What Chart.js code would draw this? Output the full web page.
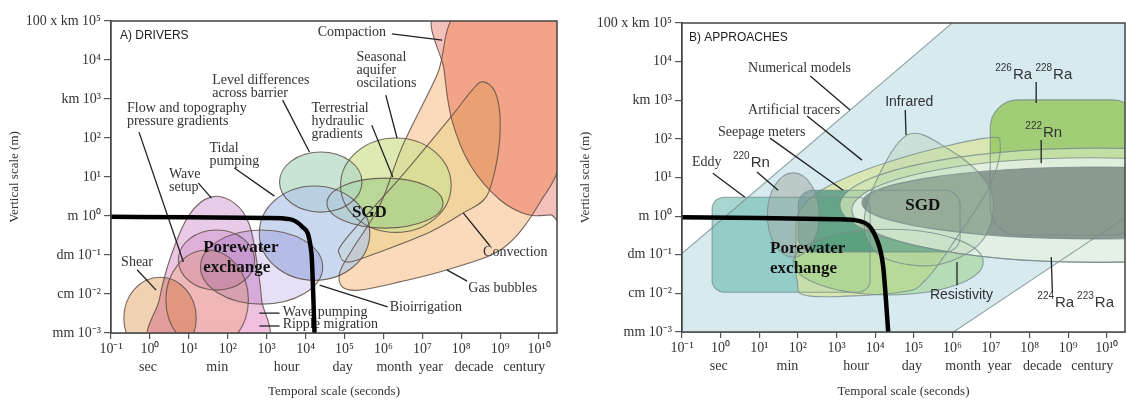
<!DOCTYPE html>
<html>
<head>
<meta charset="utf-8">
<script src="https://cdn.jsdelivr.net/npm/chart.js@4/dist/chart.umd.min.js"></script>
<style>
  body { margin: 0; background: #fff; }
  .row { display: flex; width: 1126px; height: 405px; }
</style>
</head>
<body>
<div class="row">
  <canvas id="drivers-chart" width="563" height="405"></canvas>
  <canvas id="approaches-chart" width="563" height="405"></canvas>
</div>
<script>
// Axes: both scales are powers of ten (x = log10 seconds, y = log10 metres)
const xDecades = [-1, 0, 1, 2, 3, 4, 5, 6, 7, 8, 9, 10];
const yDecades = [5, 4, 3, 2, 1, 0, -1, -2, -3];
const yPrefixes = ['100 x km ', '', 'km ', '', '', 'm ', 'dm ', 'cm ', 'mm '];
const timeUnits = ['sec', 'min', 'hour', 'day', 'month', 'year', 'decade', 'century'];
const timeUnitAt = [-0.05, 1.73, 3.51, 4.95, 6.28, 7.22, 8.33, 9.62];

// A) Drivers — outlines in decades
const driverNames = ['Compaction', 'Gas bubbles', 'Convection', 'Seasonal aquifer oscilations',
  'Terrestrial hydraulic gradients', 'Level differences across barrier', 'Tidal pumping',
  'Wave setup', 'Flow and topography pressure gradients', 'Porewater', 'Wave pumping', 'Shear'];
const driverShapes = [
  { blob: [[7.45, 5.3], [10.8, 5.3], [10.8, 0.03], [10.3, 0.03], [9.72, 0.03], [9.0, 0.41], [8.23, 1.31], [7.76, 2.46], [7.56, 3.74]] },
  { blob: [[8.05, 5.3], [10.93, 5.3], [10.6, 1.69], [10.03, 0.36], [9.08, -0.82], [7.63, -1.38], [6.42, -1.69], [5.39, -1.90], [4.95, -1.82], [4.88, -1.44], [5.19, -0.87], [5.91, 0.28], [6.50, 1.82], [7.38, 3.62]] },
  { blob: [[8.56, 3.44], [8.87, 3.18], [9.0, 2.46], [8.92, 1.44], [8.64, 0.49], [8.05, 0.08], [7.20, -0.41], [6.04, -0.87], [5.13, -1.18], [4.88, -1.0], [5.01, -0.62], [6.42, 0.97], [7.71, 2.51], [8.28, 3.23]] },
  { ellipse: [6.32, 0.79, 1.42, 1.21] },
  { ellipse: [6.04, 0.33, 1.49, 0.64] },
  { ellipse: [4.39, 0.87, 1.06, 0.77] },
  { ellipse: [4.23, -0.44, 1.42, 1.21] },
  { blob: [[0.11, -3.26], [0.24, -2.15], [0.55, -1.0], [1.01, 0.03], [1.58, 0.49], [2.17, 0.33], [2.56, -0.23], [2.76, -1.26], [2.87, -2.15], [2.89, -3.26]] },
  { ellipse: [1.71, -1.13, 0.98, 0.77] },
  { ellipse: [1.47, -2.15, 1.06, 1.28] },
  { ellipse: [2.87, -1.31, 1.57, 0.95] },
  { ellipse: [0.26, -2.62, 0.93, 1.05] }
];
const driverLine = [[-1, -0.02], [1, -0.03], [3, -0.05], [3.59, -0.08], [3.92, -0.28], [4.15, -0.95], [4.23, -3]];
const driverLabels = ['Compaction', 'Seasonal\naquifer\noscilations', 'Level differences\nacross barrier',
  'Terrestrial\nhydraulic\ngradients', 'Flow and topography\npressure gradients', 'Tidal\npumping',
  'Wave\nsetup', 'Shear', 'Convection', 'Gas bubbles', 'Bioirrigation', 'Wave pumping', 'Ripple migration'];
const driverLabelAt = [[4.31, 4.72], [5.31, 4.08], [1.60, 3.49], [4.15, 2.77], [-0.59, 2.77], [1.53, 1.74],
  [0.49, 1.08], [-0.74, -1.18], [8.56, -0.92], [8.18, -1.85], [6.16, -2.33], [3.41, -2.46], [3.41, -2.79]];
const driverLeaders = [
  [[6.22, 4.67], [7.51, 4.51]], [[6.06, 3.10], [6.35, 2.0]], [[3.41, 2.97], [4.10, 1.64]],
  [[5.70, 2.33], [6.24, 1.0]], [[-0.28, 2.15], [0.86, -1.18]], [[2.17, 1.23], [3.20, 0.51]],
  [[1.24, 0.85], [1.58, 0.46]], [[-0.33, -1.38], [0.16, -1.90]], [[8.74, -0.77], [8.05, 0.08]],
  [[7.63, -1.38], [8.15, -1.67]], [[6.11, -2.33], [4.36, -1.77]], [[2.81, -2.49], [3.33, -2.49]],
  [[2.81, -2.82], [3.33, -2.82]]
];
const driverBold = ['Porewater\nexchange', 'SGD'];
const driverBoldAt = [[1.37, -0.82], [5.19, 0.08]];

// B) Approaches — outlines in decades
const approachNames = ['Numerical models', 'Eddy', 'Artificial tracers', 'Resistivity', 'Seepage meters',
  '220Rn', '226Ra 228Ra', '222Rn', 'SGD', 'SGD core', 'Infrared'];
const approachShapes = [
  { poly: [[-1.57, -3.34], [-1.26, -1.19], [6.30, 5.26], [10.87, 5.26], [10.87, 0.23], [5.52, -3.34]] },
  { box: [-0.22, 0.49, 3.87, -1.97] },
  { blob: [[2.06, 0.16], [2.83, 0.80], [4.65, 1.50], [6.85, 2.02], [7.24, 1.84], [6.98, 0.80], [6.07, -0.62], [5.30, -1.66], [4.65, -1.97], [2.32, -2.07], [1.98, -1.66], [1.95, -0.62]] },
  { ellipse: [4.34, -1.19, 2.46, 0.85] },
  { box: [2.01, 0.67, 6.20, -0.93] },
  { ellipse: [1.88, 0.03, 0.67, 1.09] },
  { box: [6.98, 3.01, 10.87, -0.49] },
  { ellipse: [9.83, 0.28, 6.74, 1.48] },
  { ellipse: [9.57, 0.16, 6.17, 1.35] },
  { ellipse: [9.70, 0.34, 6.04, 0.93] },
  { blob: [[4.83, 2.10], [5.94, 1.71], [6.85, 0.93], [7.06, 0.16], [6.67, -0.75], [5.55, -1.27], [4.26, -1.09], [3.74, -0.41], [3.92, 0.67]] }
];
const approachLine = [[-1, -0.03], [1, -0.05], [3, -0.08], [3.61, -0.13], [4.05, -0.62], [4.21, -1.32], [4.34, -3]];
const approachLabels = ['Numerical models', 'Artificial tracers', 'Seepage meters', 'Eddy', 'Infrared', 'Resistivity'];
const approachLabelAt = [[0.71, 3.83], [0.71, 2.75], [-0.07, 2.18], [-0.74, 1.40], [4.26, 2.95], [5.42, -2.05]];
const approachLeaders = [
  [[2.32, 3.63], [3.35, 2.75]], [[2.24, 2.59], [3.66, 1.45]], [[1.28, 2.02], [3.17, 0.67]],
  [[-0.20, 1.11], [0.63, 0.49]], [[4.78, 2.75], [4.80, 2.10]], [[6.12, -1.79], [6.12, -1.19]],
  [[0.94, 1.14], [1.49, 0.67]], [[8.17, 3.47], [8.17, 2.93]], [[8.30, 1.97], [8.30, 1.37]],
  [[8.59, -1.97], [8.56, -1.06]]
];
const approachIsotopes = [['220', 'Rn'], ['226', 'Ra'], ['228', 'Ra'], ['222', 'Rn'], ['224', 'Ra'], ['223', 'Ra']];
const approachIsotopeAt = [[0.32, 1.37], [7.11, 3.65], [8.15, 3.65], [7.89, 2.15], [8.20, -2.25], [9.23, -2.25]];
const approachBold = ['Porewater\nexchange', 'SGD'];
const approachBoldAt = [[1.28, -0.83], [4.78, 0.28]];

// styles
const driverFills = ['#f6c0ba', '#fbd9bb', '#f6fad8', 'rgba(208,225,145,0.7)', 'rgba(169,207,138,0.7)',
  'rgba(176,216,194,0.7)', 'rgba(178,200,232,0.7)',
  ['#e6cdea', '#f3bede'], '#f1e0f1', '#fff0d0', '#e6dff6', '#f0d2b2'];
const driverBlends = ['multiply', 'multiply', 'multiply', 'source-over', 'source-over', 'source-over',
  'source-over', 'multiply', 'multiply', 'multiply', 'multiply', 'multiply'];
const approachFills = ['#d6eaf0', 'rgba(95,178,168,0.55)', 'rgba(218,228,160,0.75)', 'rgba(150,205,125,0.5)',
  'rgba(35,125,115,0.6)', 'rgba(165,175,170,0.55)', 'rgba(150,200,95,0.85)', 'rgba(205,228,180,0.75)',
  'rgba(232,243,238,0.75)', 'rgba(110,125,117,0.75)', 'rgba(175,205,170,0.35)'];
const approachRadii = [0, 12, 0, 0, 15, 0, 28, 0, 0, 0, 0];
const approachLabelSans = [false, false, false, false, true, true];

const SERIF = '"Liberation Serif", "Times New Roman", serif';
const SANS = '"Liberation Sans", Arial, sans-serif';
const SUPS = { '-': '⁻', '0': '⁰', '1': '¹', '2': '²', '3': '³', '4': '⁴', '5': '⁵', '6': '⁶', '7': '⁷', '8': '⁸', '9': '⁹' };
const sup = n => String(n).split('').map(c => SUPS[c]).join('');

function toPx(chart, p) {
  return [chart.scales.x.getPixelForValue(p[0]), chart.scales.y.getPixelForValue(p[1])];
}

function tracePath(ctx, chart, s, r) {
  ctx.beginPath();
  if (s.ellipse) {
    const [cx, cy] = toPx(chart, s.ellipse);
    const [ex, ey] = toPx(chart, [s.ellipse[0] + s.ellipse[2], s.ellipse[1] + s.ellipse[3]]);
    const rx = Math.abs(ex - cx), ry = Math.abs(cy - ey);
    ctx.ellipse(cx, cy, rx, ry, 0, 0, Math.PI * 2);
    return [cy - ry, cy + ry];
  }
  if (s.box) {
    const [x1, y1] = toPx(chart, [s.box[0], s.box[1]]);
    const [x2, y2] = toPx(chart, [s.box[2], s.box[3]]);
    r = r || 0;
    ctx.moveTo(x1 + r, y1);
    ctx.arcTo(x2, y1, x2, y2, r);
    ctx.arcTo(x2, y2, x1, y2, r);
    ctx.arcTo(x1, y2, x1, y1, r);
    ctx.arcTo(x1, y1, x2, y1, r);
    ctx.closePath();
    return [y1, y2];
  }
  const pts = (s.poly || s.blob).map(p => toPx(chart, p));
  const ys = pts.map(p => p[1]);
  if (s.poly) {
    pts.forEach((p, i) => i ? ctx.lineTo(p[0], p[1]) : ctx.moveTo(p[0], p[1]));
    ctx.closePath();
  } else {
    // closed catmull-rom through the outline points
    const n = pts.length;
    ctx.moveTo(pts[0][0], pts[0][1]);
    for (let i = 0; i < n; i++) {
      const p0 = pts[(i + n - 1) % n], p1 = pts[i], p2 = pts[(i + 1) % n], p3 = pts[(i + 2) % n];
      ctx.bezierCurveTo(p1[0] + (p2[0] - p0[0]) / 6, p1[1] + (p2[1] - p0[1]) / 6,
        p2[0] - (p3[0] - p1[0]) / 6, p2[1] - (p3[1] - p1[1]) / 6, p2[0], p2[1]);
    }
    ctx.closePath();
  }
  return [Math.min(...ys), Math.max(...ys)];
}

function writeLines(ctx, text, x, y, gap) {
  text.split('\n').forEach((line, i) => ctx.fillText(line, x, y + i * gap));
}

function diagramPlugin(cfg) {
  return {
    id: 'diagram',
    beforeDatasetsDraw(chart) {
      const { ctx, chartArea: a } = chart;
      ctx.save();
      ctx.beginPath();
      ctx.rect(a.left, a.top, a.right - a.left, a.bottom - a.top);
      ctx.clip();
      ctx.fillStyle = '#fff';
      ctx.fillRect(a.left, a.top, a.right - a.left, a.bottom - a.top);
      cfg.shapes.forEach((s, i) => {
        ctx.globalCompositeOperation = cfg.blends ? cfg.blends[i] : 'source-over';
        const yr = tracePath(ctx, chart, s, cfg.radii[i]);
        const f = cfg.fills[i];
        if (Array.isArray(f)) {
          const g = ctx.createLinearGradient(0, yr[0], 0, yr[1]);
          g.addColorStop(0, f[0]);
          g.addColorStop(1, f[1]);
          ctx.fillStyle = g;
        } else {
          ctx.fillStyle = f;
        }
        ctx.fill();
      });
      ctx.globalCompositeOperation = 'source-over';
      ctx.strokeStyle = cfg.stroke;
      ctx.lineWidth = 1.1;
      cfg.shapes.forEach((s, i) => { tracePath(ctx, chart, s, cfg.radii[i]); ctx.stroke(); });
      ctx.restore();

      // leaders and labels
      ctx.save();
      ctx.strokeStyle = '#222';
      ctx.lineWidth = 1.3;
      cfg.leaders.forEach(l => {
        const p = toPx(chart, l[0]), q = toPx(chart, l[1]);
        ctx.beginPath(); ctx.moveTo(p[0], p[1]); ctx.lineTo(q[0], q[1]); ctx.stroke();
      });
      ctx.fillStyle = '#333';
      ctx.textBaseline = 'middle';
      ctx.textAlign = 'left';
      cfg.labels.forEach((t, i) => {
        const [x, y] = toPx(chart, cfg.labelAt[i]);
        ctx.font = (cfg.labelSans && cfg.labelSans[i] ? '14px ' + SANS : '14px ' + SERIF);
        writeLines(ctx, t, x, y, 13);
      });
      (cfg.isotopes || []).forEach((iso, i) => {
        const [x, y] = toPx(chart, cfg.isotopeAt[i]);
        ctx.font = '10px ' + SANS;
        ctx.fillText(iso[0], x, y - 7);
        const w = ctx.measureText(iso[0]).width;
        ctx.font = '15px ' + SANS;
        ctx.fillText(iso[1], x + w + 1, y);
      });
      ctx.fillStyle = '#111';
      ctx.font = 'bold 17px ' + SERIF;
      cfg.bold.forEach((t, i) => {
        const [x, y] = toPx(chart, cfg.boldAt[i]);
        writeLines(ctx, t, x, y, 20);
      });
      const [tx, ty] = toPx(chart, cfg.titleAt);
      ctx.fillStyle = '#222';
      ctx.font = '12px ' + SANS;
      ctx.fillText(cfg.title, tx, ty);
      ctx.restore();
    },
    afterDraw(chart) {
      const { ctx, chartArea: a } = chart;
      ctx.save();
      ctx.strokeStyle = '#444';
      ctx.lineWidth = 1.5;
      ctx.strokeRect(a.left, a.top, a.right - a.left, a.bottom - a.top);
      ctx.fillStyle = '#333';
      ctx.font = '14px ' + SERIF;
      ctx.textAlign = 'center';
      ctx.textBaseline = 'middle';
      timeUnits.forEach((u, i) => ctx.fillText(u, chart.scales.x.getPixelForValue(timeUnitAt[i]), a.bottom + 34));
      ctx.restore();
    }
  };
}

const tickFont = { family: SERIF, size: 14 };
const titleFont = { family: SERIF, size: 13 };

function makePanel(id, cfg) {
  return new Chart(document.getElementById(id), {
    type: 'scatter',
    data: {
      datasets: [{
        label: 'Porewater exchange',
        data: cfg.line.map(p => ({ x: p[0], y: p[1] })),
        showLine: true,
        borderColor: '#000',
        borderWidth: 4.5,
        pointRadius: 0,
        cubicInterpolationMode: 'monotone'
      }]
    },
    options: {
      responsive: false,
      animation: false,
      events: [],
      layout: { padding: { top: cfg.top, right: cfg.right, left: 0, bottom: 0 } },
      plugins: { legend: { display: false }, tooltip: { enabled: false } },
      scales: {
        x: {
          type: 'linear', min: -1, max: cfg.xMax,
          afterFit: s => { s.height = cfg.xAxisHeight; },
          ticks: {
            stepSize: 1, includeBounds: false, autoSkip: false, maxRotation: 0, padding: 2,
            color: '#333', font: tickFont,
            callback: v => xDecades.includes(Math.round(v)) ? '10' + sup(Math.round(v)) : ''
          },
          grid: { drawOnChartArea: false, tickLength: 6, color: '#555', lineWidth: 1.2 },
          border: { color: '#444', width: 1.5 },
          title: { display: true, text: 'Temporal scale (seconds)', color: '#333', font: titleFont, padding: { bottom: 6 } }
        },
        y: {
          type: 'linear', min: -3, max: 5,
          afterFit: s => { s.width = cfg.yAxisWidth; },
          ticks: {
            stepSize: 1, includeBounds: false, color: '#333', font: tickFont, padding: 3,
            callback: v => {
              const i = yDecades.indexOf(Math.round(v));
              return i < 0 ? '' : yPrefixes[i] + '10' + sup(Math.round(v));
            }
          },
          grid: { drawOnChartArea: false, tickLength: 7, color: '#555', lineWidth: 1.2 },
          border: { color: '#444', width: 1.5 },
          title: { display: true, text: 'Vertical scale (m)', color: '#333', font: titleFont, padding: { top: cfg.yTitlePad } }
        }
      }
    },
    plugins: [diagramPlugin(cfg)]
  });
}

makePanel('drivers-chart', {
  top: 21, right: 6, xAxisHeight: 72, yAxisWidth: 111, xMax: 10.46, yTitlePad: 7,
  blends: driverBlends, stroke: 'rgba(95,80,72,0.85)',
  shapes: driverShapes, fills: driverFills, radii: [],
  line: driverLine,
  labels: driverLabels, labelAt: driverLabelAt, leaders: driverLeaders,
  bold: driverBold, boldAt: driverBoldAt,
  title: 'A) DRIVERS', titleAt: [-0.77, 4.62]
});

makePanel('approaches-chart', {
  top: 23, right: 1, xAxisHeight: 73, yAxisWidth: 119, xMax: 10.47, yTitlePad: 15,
  stroke: 'rgba(120,140,140,0.8)',
  shapes: approachShapes, fills: approachFills, radii: approachRadii,
  line: approachLine,
  labels: approachLabels, labelAt: approachLabelAt, labelSans: approachLabelSans, leaders: approachLeaders,
  isotopes: approachIsotopes, isotopeAt: approachIsotopeAt,
  bold: approachBold, boldAt: approachBoldAt,
  title: 'B) APPROACHES', titleAt: [-0.82, 4.61]
});
</script>
</body>
</html>
